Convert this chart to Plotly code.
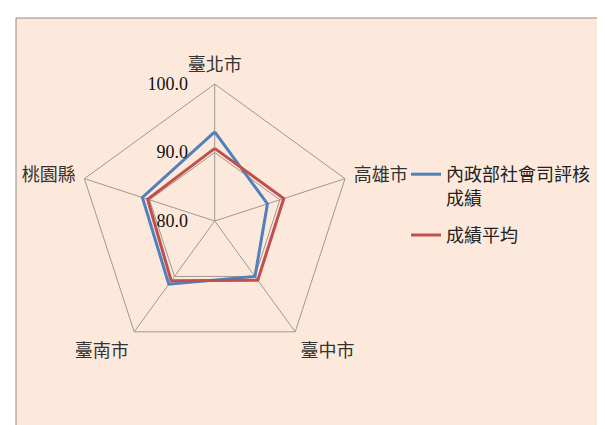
import plotly.graph_objects as go

categories = ["臺北市", "高雄市", "臺中市", "臺南市", "桃園縣"]
series_names = ["內政部社會司評核<br>成績", "成績平均"]
blue_values = [93.0, 88.1, 90.0, 91.4, 91.1]
red_values = [90.6, 90.6, 90.7, 90.8, 90.3]
radial_ticks = [80, 90, 100]
radial_ticktext = ["80.0", "90.0", "100.0"]

W, H = 605, 425
cx, cy, R = 206.7, 213.0, 137.0

fig = go.Figure()
for i, (name, vals, col) in enumerate([(series_names[0], blue_values, "#4F81BD"),
                                       (series_names[1], red_values, "#C0504D")]):
    fig.add_trace(go.Scatterpolar(
        r=vals + vals[:1], theta=categories + categories[:1],
        mode="lines", name=name, legendgroup=f"g{i}",
        line=dict(color=col, width=3),
    ))

fig.update_layout(
    width=W, height=H,
    margin=dict(l=0, r=0, t=0, b=0),
    paper_bgcolor="white",
    showlegend=True,
    legend=dict(x=398 / W, y=1 - 148 / H, xanchor="left", yanchor="top",
                bgcolor="rgba(0,0,0,0)", valign="top", tracegroupgap=11,
                itemwidth=30,
                font=dict(family="Noto Sans CJK TC", size=18, color="#222")),
    polar=dict(
        domain=dict(x=[(cx - R) / W, (cx + R) / W],
                    y=[(H - cy - R) / H, (H - cy + R) / H]),
        bgcolor="rgba(0,0,0,0)",
        gridshape="linear",
        angularaxis=dict(rotation=90, direction="clockwise",
                         showline=True, linecolor="#9E9892", linewidth=1,
                         gridcolor="#9E9892", gridwidth=1,
                         ticks="outside", ticklen=5, tickcolor="rgba(0,0,0,0)",
                         tickfont=dict(family="Noto Sans CJK TC", size=18, color="#333")),
        radialaxis=dict(range=[80, 100], tickvals=radial_ticks, ticktext=radial_ticktext,
                        angle=90, side="counterclockwise", showline=False,
                        gridcolor="#9E9892", gridwidth=1,
                        ticks="outside", ticklen=20, tickcolor="rgba(0,0,0,0)", tickangle=90,
                        tickfont=dict(family="Liberation Serif", size=18, color="#111")),
    ),
    shapes=[dict(type="rect", xref="paper", yref="paper", layer="below",
                 x0=8 / W, x1=1.02, y0=-0.02, y1=1 - 10 / H,
                 fillcolor="#FDE9DB", line=dict(color="#8C8C8C", width=1))],
)

fig.write_html("out.html")
